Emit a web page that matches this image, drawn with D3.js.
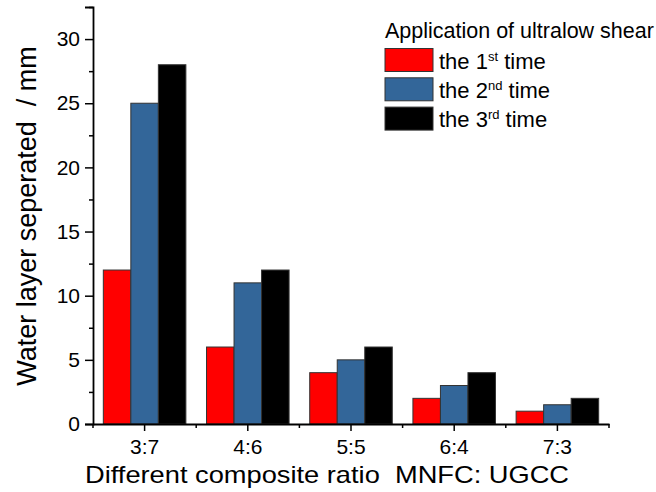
<!DOCTYPE html>
<html>
<head>
<meta charset="utf-8">
<script src="https://cdn.jsdelivr.net/npm/d3@7"></script>
<style>
  body { margin: 0; background: #fff; }
  text { font-family: "Liberation Sans", Arial, sans-serif; fill: #000; }
  .tick text { font-size: 21px; }
</style>
</head>
<body>
<div id="chart"></div>
<script>
// data
const ratios = ['3:7', '4:6', '5:5', '6:4', '7:3'];
const firstTime = [12, 6, 4, 2, 1];
const secondTime = [25, 11, 5, 3, 1.5];
const thirdTime = [28, 12, 6, 4, 2];
const seriesNames = [['1', 'st'], ['2', 'nd'], ['3', 'rd']];
const seriesColors = ['#ff0000', '#336699', '#000000'];
const yTicks = [0, 5, 10, 15, 20, 25, 30];

const W = 656, H = 492;
const margin = { top: 7, right: 47, bottom: 68, left: 93 };
const width = W - margin.left - margin.right;
const height = H - margin.top - margin.bottom;

const svg = d3.select('#chart').append('svg')
  .attr('width', W)
  .attr('height', H);

const g = svg.append('g')
  .attr('transform', `translate(${margin.left},${margin.top})`);

const series = [firstTime, secondTime, thirdTime];

// scales
const x = d3.scaleBand().domain(ratios).range([0, width]);
const x1 = d3.scaleBand().domain(d3.range(series.length))
  .range([x.bandwidth() * 0.1, x.bandwidth() * 0.9]);
const y = d3.scaleLinear().domain([0, 32.5]).range([height, 0]);

// bars
series.forEach((vals, si) => {
  g.append('g').selectAll('rect')
    .data(vals)
    .join('rect')
    .attr('x', (d, i) => x(ratios[i]) + x1(si))
    .attr('y', d => y(d))
    .attr('width', x1.bandwidth())
    .attr('height', d => y(0) - y(d))
    .attr('fill', seriesColors[si])
    .attr('stroke', '#333')
    .attr('stroke-width', 1);
});

// y axis
g.append('g')
  .call(d3.axisLeft(y).tickValues(yTicks).tickSize(8).tickPadding(5))
  .call(a => a.selectAll('text').attr('font-size', 21).style('font-size', '21px'));
g.append('g')
  .call(d3.axisLeft(y).tickValues(d3.range(2.5, 33, 5)).tickSize(4).tickFormat(''))
  .call(a => a.select('.domain').remove());

// x axis
g.append('g')
  .attr('transform', `translate(0,${height})`)
  .call(d3.axisBottom(x).tickSize(7).tickPadding(8).tickSizeOuter(0))
  .call(a => a.selectAll('text').attr('font-size', 21).style('font-size', '21px'));
const bounds = ratios.map(r => x(r)).concat([width]);
g.append('g').selectAll('line')
  .data(bounds)
  .join('line')
  .attr('x1', d => d).attr('x2', d => d)
  .attr('y1', height).attr('y2', height + 4)
  .attr('stroke', '#000').attr('stroke-width', 1.5);

g.selectAll('.domain').attr('stroke', '#000').attr('stroke-width', 1.8);
g.selectAll('.tick line').attr('stroke', '#000').attr('stroke-width', 1.5);

// axis titles
svg.append('text')
  .attr('x', 327)
  .attr('y', 483)
  .attr('text-anchor', 'middle')
  .attr('textLength', 484)
  .attr('lengthAdjust', 'spacingAndGlyphs')
  .style('font-size', '24px')
  .text('Different composite ratio\u00a0 MNFC: UGCC');

svg.append('text')
  .attr('transform', 'translate(36,216) rotate(-90)')
  .attr('text-anchor', 'middle')
  .style('font-size', '27px')
  .text('Water layer seperated\u00a0 / mm');

// legend
const legend = svg.append('g').attr('transform', 'translate(385,0)');
legend.append('text')
  .attr('x', 0).attr('y', 38)
  .style('font-size', '21.5px')
  .text('Application of ultralow shear');

seriesNames.forEach((nm, i) => {
  const yy = 48.5 + i * 29.3;
  legend.append('rect')
    .attr('x', 0).attr('y', yy)
    .attr('width', 48).attr('height', 23)
    .attr('fill', seriesColors[i])
    .attr('stroke', '#333').attr('stroke-width', 1);
  const t = legend.append('text')
    .attr('x', 54).attr('y', yy + 20)
    .style('font-size', '22px');
  t.append('tspan').text('the ' + nm[0]);
  t.append('tspan').attr('dy', -8).style('font-size', '13px').text(nm[1]);
  t.append('tspan').attr('dy', 8).text(' time');
});
</script>
</body>
</html>
